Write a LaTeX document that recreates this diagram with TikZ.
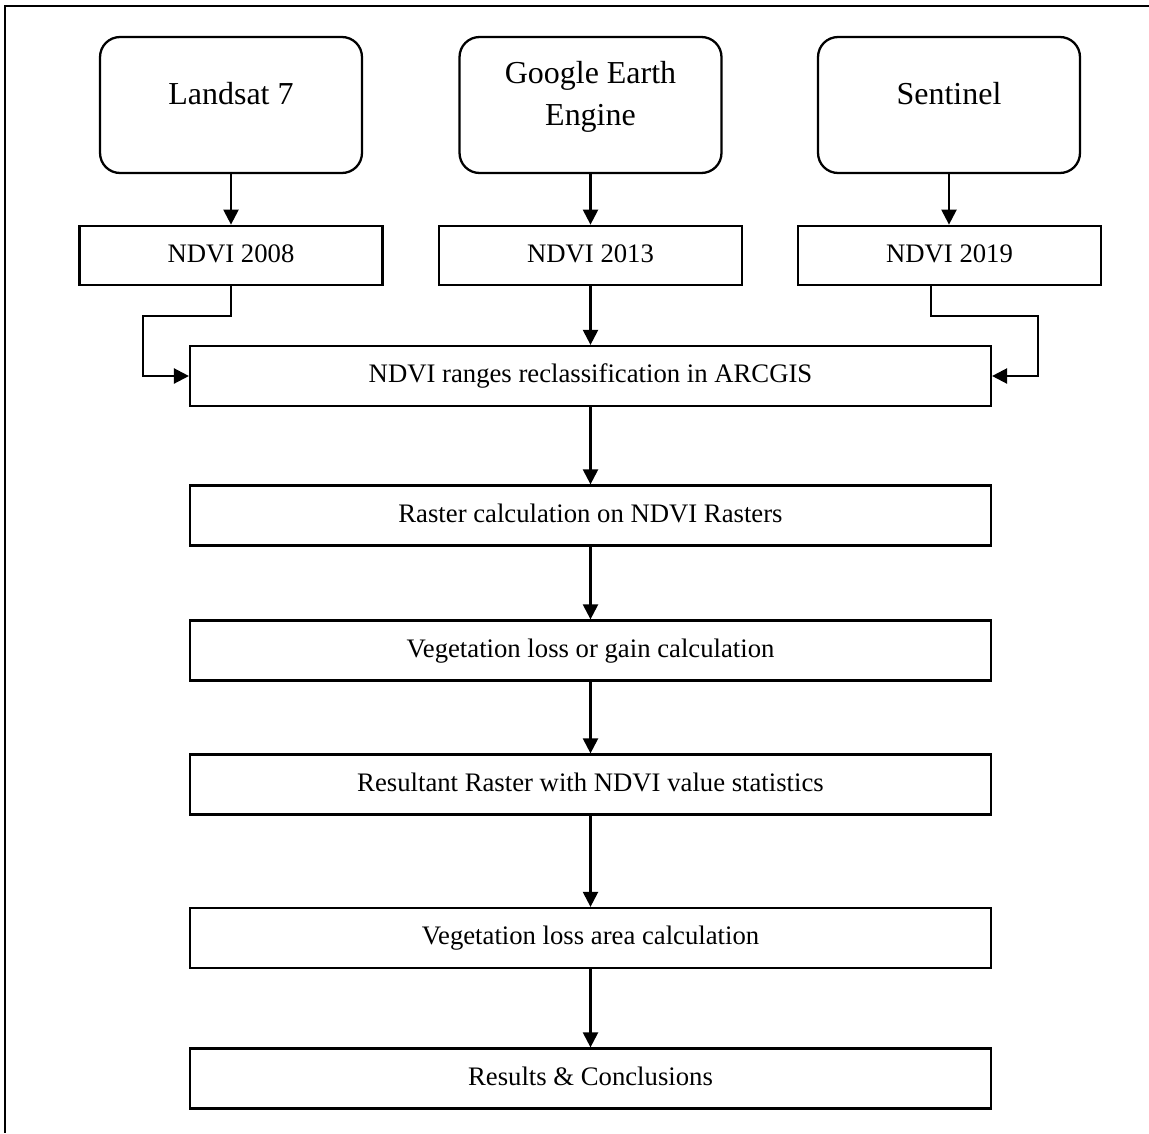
\documentclass[tikz,border=0pt]{standalone}
\usepackage{fontspec}
\setmainfont{Liberation Serif}
\usepackage{tikz}
\usetikzlibrary{arrows.meta}

\begin{document}
\begin{tikzpicture}[
    x=0.02cm, y=-0.02cm,
    srcbox/.style={
        draw,
        line width=1.3pt,
        rounded corners=0.4cm,
        minimum width=5.24cm,
        minimum height=2.72cm
    },
    srctext/.style={
        font=\fontsize{18.2}{23.9}\selectfont,
        align=center,
        inner sep=0pt
    },
    ndvibox/.style={
        draw,
        line width=1.3pt,
        minimum width=6.06cm,
        minimum height=1.19cm,
        font=\fontsize{15.2}{18}\selectfont,
        text height=0.37cm,
        text depth=0.11cm
    },
    stepbox/.style={
        draw,
        line width=1.3pt,
        minimum width=16.02cm,
        minimum height=1.2cm,
        font=\fontsize{15.2}{18}\selectfont,
        text height=0.37cm,
        text depth=0.11cm
    },
    arr/.style={
        line width=1.3pt,
        -{Triangle[length=0.3cm,width=0.3cm]}
    }
]

\useasboundingbox (0,0) rectangle (1149,1133);

% frame
\draw[line width=1pt] (1149,6) -- (5,6) -- (5,1133);

% sources
\node[srcbox] (landsat) at (231,105) {};
\node[srctext, anchor=base] (landsat-lbl) at (231,104) {Landsat 7};

\node[srcbox] (gee) at (590.5,105) {};
\node[srctext] (gee-lbl) at (590.5,96.6) {Google Earth\\Engine};

\node[srcbox] (sentinel) at (949,105) {};
\node[srctext, anchor=base] (sentinel-lbl) at (949,104) {Sentinel};

% ndvi layers
\node[ndvibox] (ndvi08) at (231,255.5) {NDVI 2008};
\node[ndvibox] (ndvi13) at (590.5,255.5) {NDVI 2013};
\node[ndvibox] (ndvi19) at (949.5,255.5) {NDVI 2019};

% processing steps
\node[stepbox] (reclass) at (590.5,376) {NDVI ranges reclassification in ARCGIS};
\node[stepbox] (raster) at (590.5,515.5) {Raster calculation on NDVI Rasters};
\node[stepbox] (gainloss) at (590.5,650.5) {Vegetation loss or gain calculation};
\node[stepbox] (resultant) at (590.5,784.5) {Resultant Raster with NDVI value statistics};
\node[stepbox] (lossarea) at (590.5,938) {Vegetation loss area calculation};
\node[stepbox] (results) at (590.5,1078.5) {Results \& Conclusions};

\coordinate (lbend) at (143,316);
\coordinate (rbend) at (1038,316);

% connectors
\draw[arr] (landsat.south) -- (landsat.south |- ndvi08.north);
\draw[arr] (gee.south) -- (gee.south |- ndvi13.north);
\draw[arr] (sentinel.south) -- (sentinel.south |- ndvi19.north);

\draw[arr] (ndvi08.south) |- (lbend) |- (reclass.west);
\draw[arr] (ndvi13.south) -- (ndvi13.south |- reclass.north);
\draw[arr] ([xshift=-0.37cm]ndvi19.south) |- (rbend) |- (reclass.east);

\draw[arr] (reclass) -- (raster);
\draw[arr] (raster) -- (gainloss);
\draw[arr] (gainloss) -- (resultant);
\draw[arr] (resultant) -- (lossarea);
\draw[arr] (lossarea) -- (results);

\end{tikzpicture}
\end{document}
